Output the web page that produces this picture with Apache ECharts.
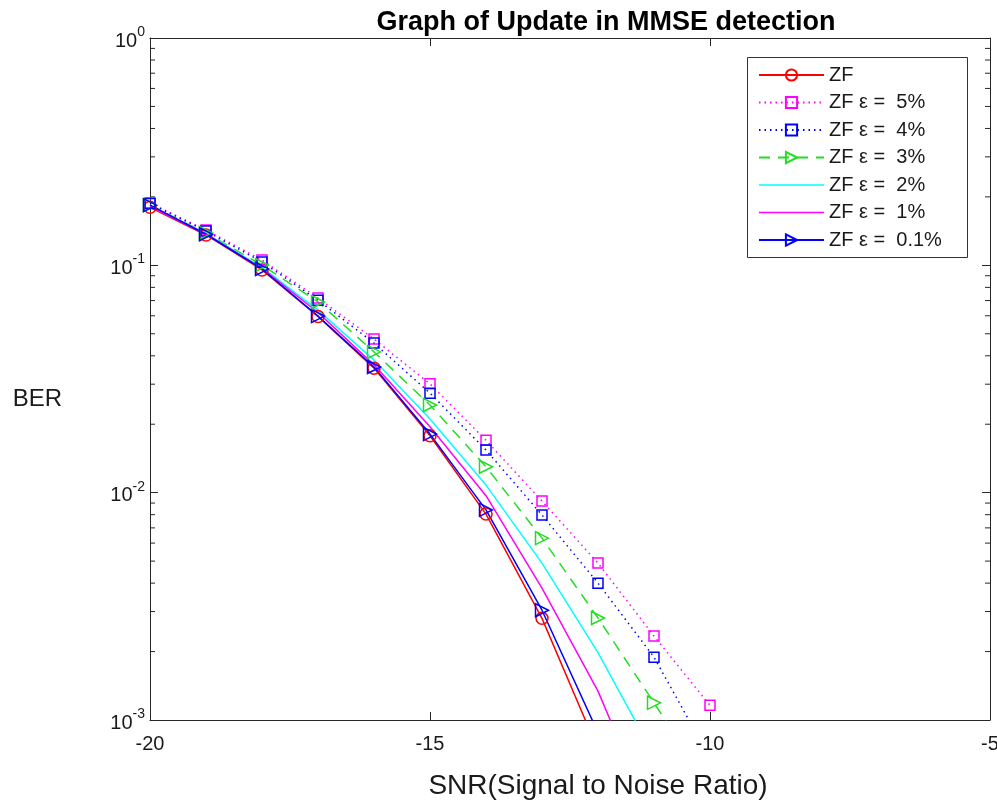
<!DOCTYPE html>
<html>
<head>
<meta charset="utf-8">
<script src="https://cdn.jsdelivr.net/npm/echarts@6/dist/echarts.min.js"></script>
<style>html,body{margin:0;padding:0;background:#fff;}#c{width:997px;height:801px;}</style>
</head>
<body>
<div id="c"></div>
<script>
// ---- data ----
const snr = [-20, -19, -18, -17, -16, -15, -14, -13, -12, -11, -10];
const berZF   = [0.180, 0.136, 0.0954, 0.0596, 0.0353, 0.0178, 0.00805, 0.0028, 0.00074];
const berE5   = [0.188, 0.143, 0.1055, 0.0718, 0.0474, 0.0301, 0.0170, 0.00918, 0.00490, 0.00234, 0.00116];
const berE4   = [0.187, 0.1415, 0.1035, 0.0703, 0.0455, 0.0274, 0.0154, 0.00797, 0.00400, 0.00189, 0.00068];
const berE3   = [0.184, 0.1387, 0.1003, 0.0690, 0.0416, 0.0243, 0.0130, 0.00631, 0.00281, 0.00119, 0.00050];
const berE2   = [0.183, 0.138, 0.098, 0.0635, 0.0383, 0.0211, 0.0108, 0.0049, 0.00198, 0.00070];
const berE1   = [0.182, 0.137, 0.097, 0.0620, 0.0365, 0.0195, 0.0097, 0.0038, 0.00134, 0.00035];
const berE01  = [0.184, 0.137, 0.0964, 0.0598, 0.0357, 0.0181, 0.0084, 0.00304, 0.00088];
const seriesNames = ['ZF', 'ZF ε =  5%', 'ZF ε =  4%', 'ZF ε =  3%', 'ZF ε =  2%', 'ZF ε =  1%', 'ZF ε =  0.1%'];
const xTicks = [-20, -15, -10, -5];
const yDecades = [0.001, 0.01, 0.1, 1];

const FONT = 'Liberation Sans, Arial, sans-serif';
const AX = '#262626';

function pairs(arr) { return arr.map((v, i) => [snr[i], v]); }

// minor tick values for the log axis (2..9 within each decade)
const minorVals = [];
for (let d = 0; d < yDecades.length - 1; d++) {
  for (let k = 2; k <= 9; k++) minorVals.push([-20, k * yDecades[d]]);
}

function lineSeries(name, data, color, type, symbol, size, rotate) {
  return {
    name: name, type: 'line', data: pairs(data),
    symbol: symbol || 'none', symbolSize: size || 0, symbolRotate: rotate || 0,
    showSymbol: !!symbol, clip: true, z: 3,
    color: color,
    lineStyle: { color: color, width: 1.5, type: type },
    itemStyle: symbol
      ? { color: 'rgba(0,0,0,0)', borderColor: color, borderWidth: 1.5 }
      : { color: color, borderWidth: 0 },
    emphasis: { disabled: true }
  };
}

const chart = echarts.init(document.getElementById('c'), null, { renderer: 'canvas' });
const option = {
  animation: false,
  backgroundColor: '#fff',
  title: {
    text: 'Graph of Update in MMSE detection',
    left: 601, textAlign: 'center', top: 4,
    textStyle: { fontFamily: FONT, fontSize: 27, fontWeight: 'bold', color: '#000' }
  },
  grid: { left: 150, right: 7, top: 38, bottom: 81, containLabel: false, outerBoundsMode: 'none' },
  legend: {
    data: [
      { name: seriesNames[0] },
      { name: seriesNames[1] },
      { name: seriesNames[2] },
      { name: seriesNames[3] },
      { name: seriesNames[4], icon: 'path://M0,0L65,0L65,1.5L0,1.5Z' },
      { name: seriesNames[5], icon: 'path://M0,0L65,0L65,1.5L0,1.5Z' },
      { name: seriesNames[6] }
    ],
    orient: 'vertical', left: 758, top: 65, padding: 0,
    itemWidth: 65, itemHeight: 14, itemGap: 7.5,
    selectedMode: false,
    textStyle: { fontFamily: FONT, fontSize: 20, color: '#1a1a1a', lineHeight: 20 }
  },
  graphic: [{
    type: 'rect', left: 747, top: 57, z: -1,
    shape: { width: 220, height: 200 },
    style: { fill: '#fff', stroke: '#333', lineWidth: 1 }
  }],
  xAxis: [{
    type: 'value', min: -20, max: -5, interval: 5,
    name: 'SNR(Signal to Noise Ratio)', nameLocation: 'middle', nameGap: 52,
    nameTextStyle: { fontFamily: FONT, fontSize: 28, color: '#1a1a1a', padding: [0, 0, 0, 56] },
    axisLine: { show: true, lineStyle: { color: AX, width: 1 } },
    axisTick: { show: true, inside: true, length: 8, lineStyle: { color: AX } },
    axisLabel: { fontFamily: FONT, fontSize: 20, color: '#1a1a1a', margin: 14 },
    splitLine: { show: false }
  }, {
    type: 'value', position: 'top', min: -20, max: -5, interval: 5,
    axisLine: { show: true, onZero: false, lineStyle: { color: AX, width: 1 } },
    axisTick: { show: true, inside: true, length: 8, lineStyle: { color: AX } },
    axisLabel: { show: false }, splitLine: { show: false }
  }],
  yAxis: [{
    type: 'log', logBase: 10, min: 0.001, max: 1,
    name: 'BER', nameLocation: 'middle', nameRotate: 0, nameGap: 88,
    nameTextStyle: { fontFamily: FONT, fontSize: 24, color: '#1a1a1a', verticalAlign: 'top', padding: [8, 0, 0, 0] },
    axisLine: { show: true, onZero: false, lineStyle: { color: AX, width: 1 } },
    axisTick: { show: true, inside: true, length: 8, lineStyle: { color: AX } },
    axisLabel: {
      margin: 5,
      formatter: function (v) {
        const e = Math.round(Math.log10(v));
        return '{a|10}{b|' + e + '}';
      },
      rich: {
        a: { fontFamily: FONT, fontSize: 20, color: '#1a1a1a', padding: [6, 0, 0, 0] },
        b: { fontFamily: FONT, fontSize: 14, color: '#1a1a1a', padding: [0, 0, 12, 0] }
      }
    },
    splitLine: { show: false }
  }, {
    type: 'log', logBase: 10, min: 0.001, max: 1, position: 'right',
    axisLine: { show: true, onZero: false, lineStyle: { color: AX, width: 1 } },
    axisTick: { show: true, inside: true, length: 8, lineStyle: { color: AX } },
    axisLabel: { show: false }, splitLine: { show: false }
  }],
  series: [
    lineSeries(seriesNames[0], berZF, '#ff0000', 'solid', 'circle', 12, 0),
    lineSeries(seriesNames[1], berE5, '#ff00ff', [1.5, 4], 'rect', 10, 0),
    lineSeries(seriesNames[2], berE4, '#0000ff', [1.5, 4], 'rect', 10, 0),
    lineSeries(seriesNames[3], berE3, '#22dd22', [11, 8], 'triangle', 13, -90),
    lineSeries(seriesNames[4], berE2, '#00ffff', 'solid', null),
    lineSeries(seriesNames[5], berE1, '#ff00ff', 'solid', null),
    lineSeries(seriesNames[6], berE01, '#0000ff', 'solid', 'triangle', 13, -90),
    {
      name: 'minorTicks', type: 'custom', silent: true, z: 1,
      data: minorVals,
      renderItem: function (params, api) {
        const v = api.value(1);
        const p1 = api.coord([-20, v]);
        const p2 = api.coord([-5, v]);
        return {
          type: 'group', children: [
            { type: 'line', shape: { x1: p1[0], y1: p1[1], x2: p1[0] + 5, y2: p1[1] }, style: { stroke: AX, lineWidth: 1 } },
            { type: 'line', shape: { x1: p2[0] - 5, y1: p2[1], x2: p2[0], y2: p2[1] }, style: { stroke: AX, lineWidth: 1 } }
          ]
        };
      }
    }
  ]
};
chart.setOption(option);
</script>
</body>
</html>
